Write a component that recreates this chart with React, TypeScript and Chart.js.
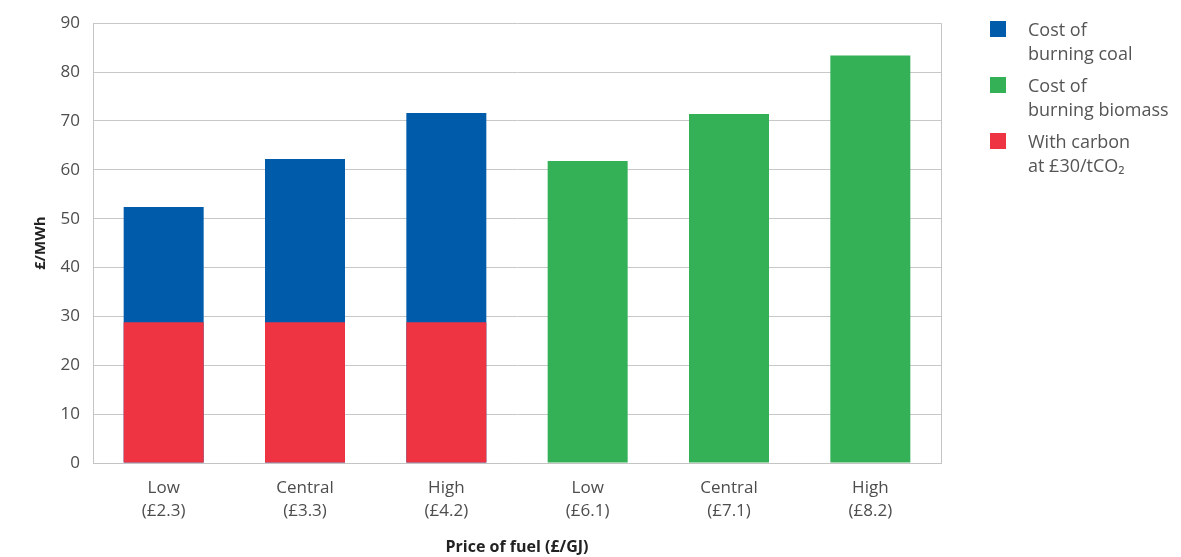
import React, { useEffect, useRef } from "react";
import { Chart, registerables } from "chart.js";

Chart.register(...registerables);

const categories: string[][] = [
  ["Low", "(£2.3)"],
  ["Central", "(£3.3)"],
  ["High", "(£4.2)"],
  ["Low", "(£6.1)"],
  ["Central", "(£7.1)"],
  ["High", "(£8.2)"],
];
const coalTotal: (number | null)[] = [52.4, 62.2, 71.6, null, null, null];
const carbonPart: (number | null)[] = [28.8, 28.8, 28.8, null, null, null];
const biomass: (number | null)[] = [null, null, null, 61.8, 71.4, 83.4];
const yTicks = [0, 10, 20, 30, 40, 50, 60, 70, 80, 90];

const COAL = "#005baa";
const BIO = "#34b057";
const CARBON = "#ee3342";
const FONT = "'Open Sans', 'Noto Sans', sans-serif";

const legendItems = [
  { color: COAL, lines: ["Cost of", "burning coal"] },
  { color: BIO, lines: ["Cost of", "burning biomass"] },
  { color: CARBON, lines: ["With carbon", "at £30/tCO₂"] },
];

const rightBorder = {
  id: "rightBorder",
  afterDraw(chart: any) {
    const { ctx, chartArea } = chart;
    ctx.save();
    ctx.strokeStyle = "#c4c4c4";
    ctx.lineWidth = 1;
    ctx.beginPath();
    ctx.moveTo(Math.round(chartArea.right) + 0.5, chartArea.top);
    ctx.lineTo(Math.round(chartArea.right) + 0.5, chartArea.bottom);
    ctx.stroke();
    ctx.restore();
  },
};

export default function App() {
  const ref = useRef<HTMLCanvasElement>(null);
  useEffect(() => {
    document.body.style.margin = "0";
    const chart = new Chart(ref.current!, {
      type: "bar",
      data: {
        labels: categories,
        datasets: [
          { label: "With carbon at £30/tCO₂", data: carbonPart, backgroundColor: CARBON, barPercentage: 0.566, categoryPercentage: 1 },
          { label: "Cost of burning coal", data: coalTotal, backgroundColor: COAL, barPercentage: 0.566, categoryPercentage: 1 },
          { label: "Cost of burning biomass", data: biomass, backgroundColor: BIO, barPercentage: 0.566, categoryPercentage: 1 },
        ],
      },
      options: {
        animation: false,
        responsive: false,
        maintainAspectRatio: false,
        layout: { padding: { top: 22, right: 240, left: 0, bottom: 0 } },
        plugins: { legend: { display: false }, tooltip: { enabled: false } },
        scales: {
          x: {
            stacked: true,
            grid: { display: false },
            border: { color: "#c4c4c4", width: 1 },
            ticks: { color: "#4d4d4d", font: { family: FONT, size: 17, lineHeight: 1.35 }, padding: 6, maxRotation: 0, autoSkip: false },
            title: { display: true, text: "Price of fuel (£/GJ)", color: "#222", font: { family: FONT, size: 16, weight: "bold" }, padding: { top: 10, bottom: 0 } },
            afterFit: (s: any) => { s.height = 94; },
          },
          y: {
            stacked: false,
            min: 0,
            max: 90,
            afterBuildTicks: (s: any) => { s.ticks = yTicks.map((v) => ({ value: v })); },
            grid: { color: "#c8c8c8", lineWidth: 1, drawTicks: false },
            border: { color: "#c4c4c4", width: 1 },
            ticks: { color: "#4d4d4d", font: { family: FONT, size: 17 }, padding: 13 },
            title: { display: true, text: "£/MWh", color: "#222", font: { family: FONT, size: 15, weight: "bold" }, padding: { top: 32, bottom: 0 } },
            afterFit: (s: any) => { s.width = 93; },
          },
        },
      },
      plugins: [rightBorder],
    });
    return () => chart.destroy();
  }, []);

  return (
    <div style={{ position: "relative", width: 1181, height: 557, background: "#fff" }}>
      <canvas ref={ref} width={1181} height={557} style={{ position: "absolute", left: 0, top: 0 }} />
      {legendItems.map((it, i) => (
        <div key={i} style={{ position: "absolute", left: 990, top: 17 + i * 56, display: "flex", fontFamily: FONT, fontSize: 18, color: "#555", lineHeight: "24px" }}>
          <div style={{ width: 16, height: 16, background: it.color, marginTop: 4, marginRight: 22 }} />
          <div>{it.lines.map((l, j) => <div key={j}>{l}</div>)}</div>
        </div>
      ))}
    </div>
  );
}
